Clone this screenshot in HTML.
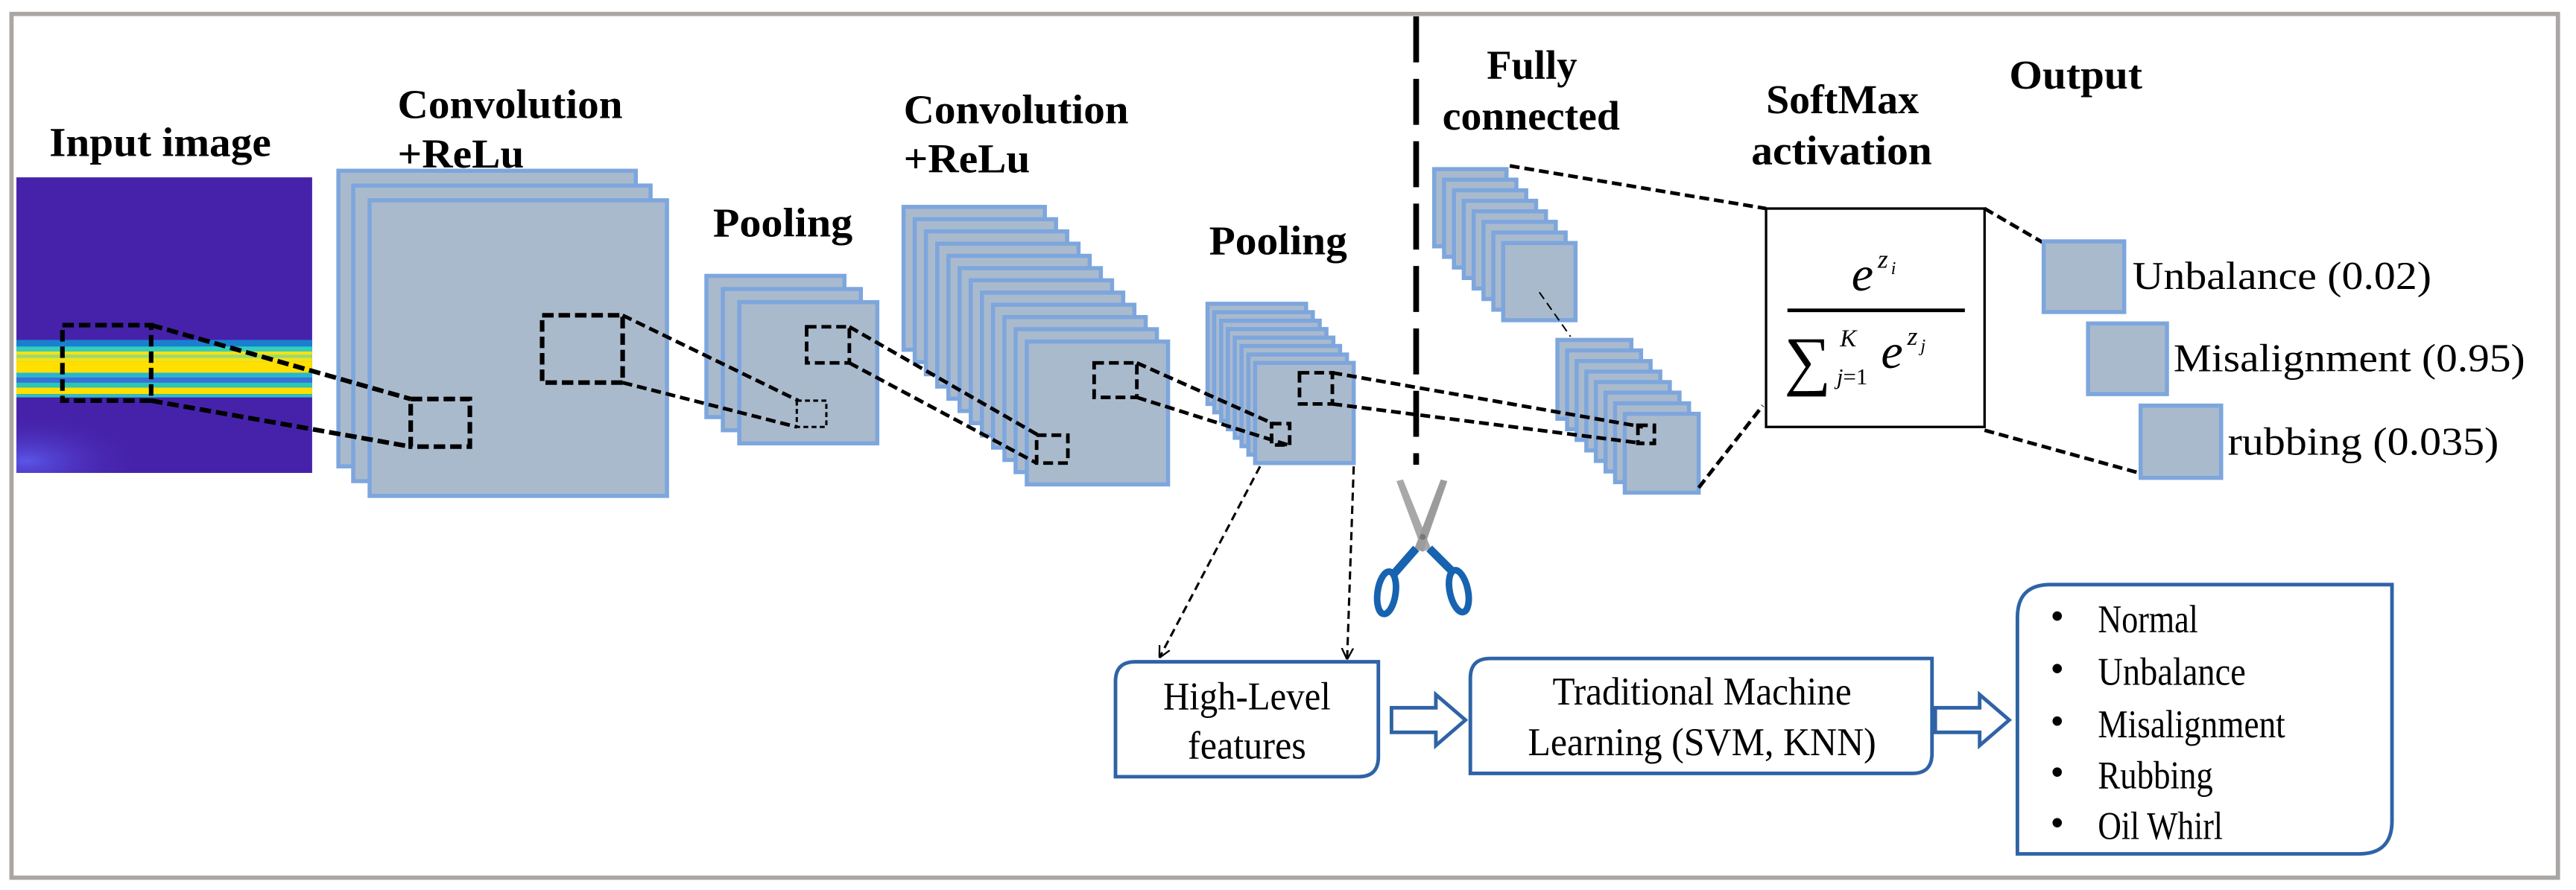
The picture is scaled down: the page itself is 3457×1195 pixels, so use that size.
<!DOCTYPE html>
<html><head><meta charset="utf-8"><style>
html,body{margin:0;padding:0;background:#fff;}
svg{display:block;}
text{font-family:"Liberation Serif",serif;fill:#000;}
.b{font-weight:bold;font-size:25px;}
.r{font-size:24px;}
.L{fill:#aabacd;stroke:#7da6dd;stroke-width:2.5;}
.d{fill:none;stroke:#000;stroke-width:2.2;stroke-dasharray:6 3;}
.db{fill:none;stroke:#000;stroke-width:2.8;stroke-dasharray:7 3;}
.bx{fill:#fff;stroke:#2f63a6;stroke-width:2.2;}
</style></head><body>
<svg width="3457" height="1195" viewBox="0 0 1568 542" preserveAspectRatio="none" xmlns="http://www.w3.org/2000/svg">
<rect x="0" y="0" width="1568" height="542" fill="#fff"/>
<rect x="7" y="8.5" width="1550" height="526" fill="none" stroke="#aaa6a4" stroke-width="2.6"/>

<text class="b" x="30" y="95" textLength="135" lengthAdjust="spacingAndGlyphs">Input image</text>
<text class="b" x="242" y="72" textLength="137" lengthAdjust="spacingAndGlyphs">Convolution</text>
<text class="b" x="242" y="102" textLength="77" lengthAdjust="spacingAndGlyphs">+ReLu</text>
<text class="b" x="434" y="144" textLength="85" lengthAdjust="spacingAndGlyphs">Pooling</text>
<text class="b" x="550" y="75" textLength="137" lengthAdjust="spacingAndGlyphs">Convolution</text>
<text class="b" x="550" y="105" textLength="77" lengthAdjust="spacingAndGlyphs">+ReLu</text>
<text class="b" x="736" y="155" textLength="84" lengthAdjust="spacingAndGlyphs">Pooling</text>
<text class="b" x="905" y="48" textLength="55" lengthAdjust="spacingAndGlyphs">Fully</text>
<text class="b" x="878" y="79" textLength="108" lengthAdjust="spacingAndGlyphs">connected</text>
<text class="b" x="1075" y="69" textLength="93" lengthAdjust="spacingAndGlyphs">SoftMax</text>
<text class="b" x="1066" y="100" textLength="110" lengthAdjust="spacingAndGlyphs">activation</text>
<text class="b" x="1223" y="54" textLength="81" lengthAdjust="spacingAndGlyphs">Output</text>

<defs>
<radialGradient id="glow" cx="0.05" cy="0.85" r="0.6">
<stop offset="0" stop-color="#5a55e8"/><stop offset="1" stop-color="#4622aa" stop-opacity="0"/>
</radialGradient>
</defs>
<rect x="10" y="108" width="180" height="180" fill="#4622aa"/>
<rect x="10" y="240" width="120" height="48" fill="url(#glow)"/>
<rect x="10" y="207" width="180" height="4" fill="#1a7fd0"/>
<rect x="10" y="211" width="180" height="3" fill="#2fd0c0"/>
<rect x="10" y="214" width="180" height="6" fill="#f2e21a"/>
<rect x="10" y="216" width="180" height="2" fill="#9fd86a"/>
<rect x="10" y="220" width="180" height="7" fill="#ffe000"/>
<rect x="10" y="227" width="180" height="3" fill="#27b6d0"/>
<rect x="10" y="230" width="180" height="3" fill="#3a70d8"/>
<rect x="10" y="233" width="180" height="3" fill="#28c8b8"/>
<rect x="10" y="236" width="180" height="4" fill="#ffe000"/>
<rect x="10" y="240" width="180" height="2" fill="#30c0c0"/>
<rect x="38" y="198" width="54" height="46" class="db"/>

<rect class="L" x="206" y="104" width="181" height="180"/>
<rect class="L" x="215" y="113" width="181" height="180"/>
<rect class="L" x="225" y="122" width="181" height="180"/>
<rect x="330" y="192" width="49" height="41" class="db"/>
<rect x="250" y="243" width="36" height="29" class="db"/>

<rect class="L" x="430" y="168" width="84" height="86"/>
<rect class="L" x="440" y="176" width="84" height="86"/>
<rect class="L" x="450" y="184" width="84" height="86"/>
<rect x="491" y="199" width="26" height="22" class="d"/>
<rect x="485" y="244" width="18" height="16" class="d" style="stroke-width:1.4;stroke-dasharray:3 2"/>

<rect class="L" x="550" y="126" width="86" height="87"/>
<rect class="L" x="556.8" y="133.5" width="86" height="87"/>
<rect class="L" x="563.6" y="140.9" width="86" height="87"/>
<rect class="L" x="570.5" y="148.4" width="86" height="87"/>
<rect class="L" x="577.3" y="155.8" width="86" height="87"/>
<rect class="L" x="584.1" y="163.3" width="86" height="87"/>
<rect class="L" x="590.9" y="170.7" width="86" height="87"/>
<rect class="L" x="597.7" y="178.2" width="86" height="87"/>
<rect class="L" x="604.5" y="185.6" width="86" height="87"/>
<rect class="L" x="611.4" y="193.1" width="86" height="87"/>
<rect class="L" x="618.2" y="200.5" width="86" height="87"/>
<rect class="L" x="625" y="208" width="86" height="87"/>
<rect x="666" y="221" width="26" height="21" class="d"/>
<rect x="631" y="265" width="19" height="17" class="d"/>

<rect class="L" x="735" y="185" width="60" height="61"/>
<rect class="L" x="739.1" y="190.1" width="60" height="61"/>
<rect class="L" x="743.3" y="195.3" width="60" height="61"/>
<rect class="L" x="747.4" y="200.4" width="60" height="61"/>
<rect class="L" x="751.6" y="205.6" width="60" height="61"/>
<rect class="L" x="755.7" y="210.7" width="60" height="61"/>
<rect class="L" x="759.9" y="215.9" width="60" height="61"/>
<rect class="L" x="764" y="221" width="60" height="61"/>
<rect x="791" y="227" width="20" height="19" class="d"/>
<rect x="774" y="258" width="11" height="13" class="d"/>

<rect class="L" x="873" y="103" width="44" height="47"/>
<rect class="L" x="879" y="109.4" width="44" height="47"/>
<rect class="L" x="885" y="115.9" width="44" height="47"/>
<rect class="L" x="891" y="122.3" width="44" height="47"/>
<rect class="L" x="897" y="128.7" width="44" height="47"/>
<rect class="L" x="903" y="135.1" width="44" height="47"/>
<rect class="L" x="909" y="141.6" width="44" height="47"/>
<rect class="L" x="915" y="148" width="44" height="47"/>
<rect class="L" x="948" y="207" width="45" height="48"/>
<rect class="L" x="953.9" y="213.4" width="45" height="48"/>
<rect class="L" x="959.7" y="219.9" width="45" height="48"/>
<rect class="L" x="965.6" y="226.3" width="45" height="48"/>
<rect class="L" x="971.4" y="232.7" width="45" height="48"/>
<rect class="L" x="977.3" y="239.1" width="45" height="48"/>
<rect class="L" x="983.1" y="245.6" width="45" height="48"/>
<rect class="L" x="989" y="252" width="45" height="48"/>
<rect x="997" y="259" width="10" height="11" class="d"/>
<line x1="937" y1="178" x2="956" y2="205" stroke="#000" stroke-width="0.9" stroke-dasharray="5 3"/>

<line x1="92" y1="198" x2="250" y2="243" class="db"/>
<line x1="92" y1="244" x2="250" y2="272" class="db"/>
<line x1="379" y1="192" x2="486" y2="244" class="d"/>
<line x1="379" y1="233" x2="485" y2="260" class="d"/>
<line x1="517" y1="199" x2="632" y2="265" class="d"/>
<line x1="517" y1="221" x2="631" y2="282" class="d"/>
<line x1="692" y1="221" x2="775" y2="258" class="d"/>
<line x1="692" y1="242" x2="784" y2="271" class="d"/>
<line x1="811" y1="227" x2="1000" y2="260" class="d"/>
<line x1="811" y1="246" x2="1000" y2="270" class="d"/>
<line x1="919" y1="101" x2="1075" y2="127" class="d"/>
<line x1="1034" y1="297" x2="1073" y2="247" class="d"/>
<line x1="1208" y1="127" x2="1244" y2="148" class="d"/>
<line x1="1208" y1="262" x2="1302" y2="288" class="d"/>

<line x1="862" y1="10" x2="862" y2="283" stroke="#000" stroke-width="3.5" stroke-dasharray="28 10"/>

<rect x="1075" y="127" width="133" height="133" fill="#fff" stroke="#000" stroke-width="1.5"/>
<text x="1127" y="177" style="font-size:30px;font-style:italic">e</text>
<text x="1143" y="163" style="font-size:16px;font-style:italic">z</text>
<text x="1151" y="167" style="font-size:11px;font-style:italic">i</text>
<line x1="1088" y1="189" x2="1196" y2="189" stroke="#000" stroke-width="2.2"/>
<text x="1086" y="233" style="font-size:40px">∑</text>
<text x="1120" y="211" style="font-size:15px;font-style:italic">K</text>
<text x="1118" y="234" style="font-size:14px"><tspan font-style="italic">j</tspan>=1</text>
<text x="1145" y="224" style="font-size:30px;font-style:italic">e</text>
<text x="1161" y="210" style="font-size:16px;font-style:italic">z</text>
<text x="1169" y="214" style="font-size:11px;font-style:italic">j</text>

<rect class="L" x="1244" y="147" width="49" height="43"/>
<rect class="L" x="1271" y="197" width="48" height="43"/>
<rect class="L" x="1303" y="247" width="49" height="44"/>
<text class="r" x="1298" y="176" textLength="182" lengthAdjust="spacingAndGlyphs">Unbalance (0.02)</text>
<text class="r" x="1323" y="226" textLength="214" lengthAdjust="spacingAndGlyphs">Misalignment (0.95)</text>
<text class="r" x="1356" y="277" textLength="165" lengthAdjust="spacingAndGlyphs">rubbing (0.035)</text>

<defs><marker id="ah" viewBox="0 0 10 10" refX="9" refY="5" markerWidth="7" markerHeight="9" orient="auto" markerUnits="userSpaceOnUse"><path d="M0,0 L10,5 L0,10" fill="none" stroke="#000" stroke-width="1.5"/></marker></defs>
<line x1="767" y1="284" x2="706" y2="400" stroke="#000" stroke-width="1.4" stroke-dasharray="5 3" marker-end="url(#ah)"/>
<line x1="824" y1="284" x2="820" y2="401" stroke="#000" stroke-width="1.4" stroke-dasharray="5 3" marker-end="url(#ah)"/>

<!-- scissors -->
<path d="M850,293 L854,292 L871,334 L866,336 Z" fill="#a8a8a8"/>
<path d="M877,292 L881,293 L866,336 L861,334 Z" fill="#9c9c9c"/>
<circle cx="866" cy="327" r="1.8" fill="#777"/>
<path d="M862,334 L848,350" stroke="#1763b0" stroke-width="5"/>
<path d="M870,334 L884,348" stroke="#1763b0" stroke-width="5"/>
<ellipse cx="844" cy="361" rx="5.5" ry="13" fill="none" stroke="#1763b0" stroke-width="4" transform="rotate(8 844 361)"/>
<ellipse cx="888" cy="360" rx="5.5" ry="13" fill="none" stroke="#1763b0" stroke-width="4" transform="rotate(-12 888 360)"/>

<path class="bx" d="M691,403 H839 V461 Q839,473 827,473 H679 V415 Q679,403 691,403 Z"/>
<text class="r" x="759" y="432" text-anchor="middle" textLength="102" lengthAdjust="spacingAndGlyphs">High-Level</text>
<text class="r" x="759" y="462" text-anchor="middle" textLength="72" lengthAdjust="spacingAndGlyphs">features</text>
<path class="bx" d="M847,431 H874 V423 L892,438.5 L874,454 V446 H847 Z"/>
<path class="bx" d="M907,401 H1176 V459 Q1176,471 1164,471 H895 V413 Q895,401 907,401 Z"/>
<text class="r" x="1036" y="429" text-anchor="middle" textLength="182" lengthAdjust="spacingAndGlyphs">Traditional Machine</text>
<text class="r" x="1036" y="460" text-anchor="middle" textLength="212" lengthAdjust="spacingAndGlyphs">Learning (SVM, KNN)</text>
<path class="bx" d="M1178,431 H1205 V423 L1223,438.5 L1205,454 V446 H1178 Z"/>
<path class="bx" d="M1248,356 H1456 V500 Q1456,520 1436,520 H1228 V376 Q1228,356 1248,356 Z"/>
<text class="r" x="1248" y="383">•</text><text class="r" x="1277" y="385" textLength="61" lengthAdjust="spacingAndGlyphs">Normal</text>
<text class="r" x="1248" y="415">•</text><text class="r" x="1277" y="417" textLength="90" lengthAdjust="spacingAndGlyphs">Unbalance</text>
<text class="r" x="1248" y="447">•</text><text class="r" x="1277" y="449" textLength="114" lengthAdjust="spacingAndGlyphs">Misalignment</text>
<text class="r" x="1248" y="478">•</text><text class="r" x="1277" y="480" textLength="70" lengthAdjust="spacingAndGlyphs">Rubbing</text>
<text class="r" x="1248" y="509">•</text><text class="r" x="1277" y="511" textLength="76" lengthAdjust="spacingAndGlyphs">Oil Whirl</text>
</svg>
</body></html>
